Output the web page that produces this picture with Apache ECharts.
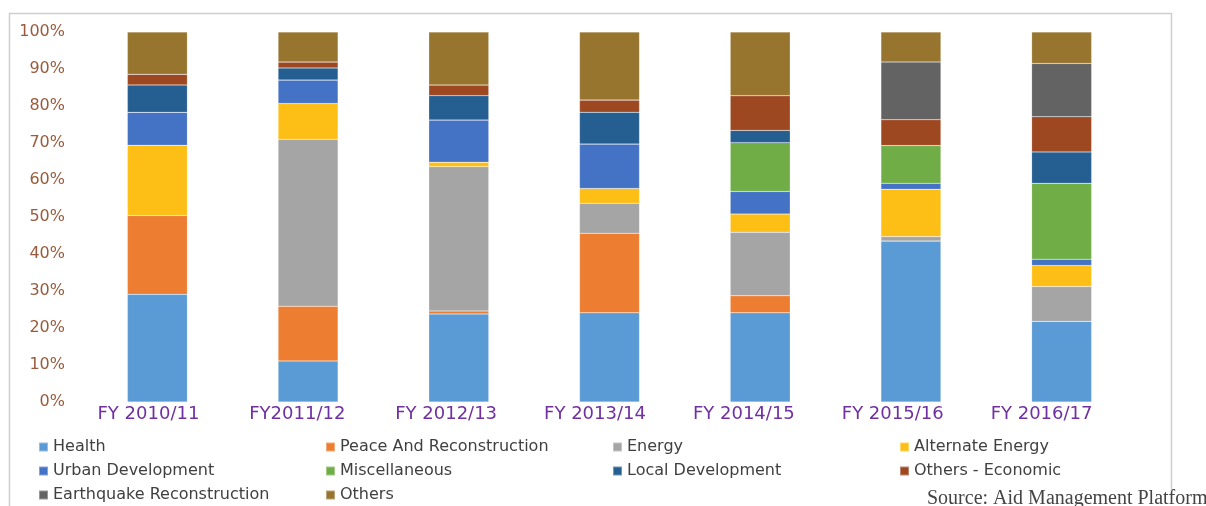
<!DOCTYPE html>
<html>
<head>
<meta charset="utf-8">
<script src="https://cdn.jsdelivr.net/npm/echarts@6/dist/echarts.min.js"></script>
<style>
  html, body { margin: 0; padding: 0; background: #fff; }
  #chart { width: 1206px; height: 506px; }
</style>
</head>
<body>
<div id="chart"></div>
<script>
const years = ['FY 2010/11', 'FY2011/12', 'FY 2012/13', 'FY 2013/14', 'FY 2014/15', 'FY 2015/16', 'FY 2016/17']

// share of each sector per year (%)
const health      = [29.1, 11.1, 23.8, 24.1, 24.1, 43.5, 21.8]
const peace       = [21.3, 14.8, 0.8, 21.5, 4.6, 0, 0]
const energy      = [0, 45.1, 39.0, 8.1, 17.2, 1.2, 9.4]
const alternate   = [19.0, 9.7, 1.2, 4.0, 4.9, 12.8, 5.7]
const urban       = [8.9, 6.3, 11.4, 12.0, 6.1, 1.6, 1.7]
const misc        = [0, 0, 0, 0, 13.2, 10.2, 20.5]
const local       = [7.4, 3.3, 6.6, 8.6, 3.3, 0, 8.5]
const othersEcon  = [2.9, 1.6, 2.9, 3.3, 9.4, 7.0, 9.5]
const earthquake  = [0, 0, 0, 0, 0, 15.6, 14.4]
const others      = [11.4, 8.1, 14.3, 18.4, 17.2, 8.1, 8.5]

const seriesList = [
  { name: 'Health', data: health, color: '#5b9bd5' },
  { name: 'Peace And Reconstruction', data: peace, color: '#ed7d31' },
  { name: 'Energy', data: energy, color: '#a5a5a5' },
  { name: 'Alternate Energy', data: alternate, color: '#fdbf16' },
  { name: 'Urban Development', data: urban, color: '#4472c4' },
  { name: 'Miscellaneous', data: misc, color: '#70ad47' },
  { name: 'Local Development', data: local, color: '#255e91' },
  { name: 'Others - Economic', data: othersEcon, color: '#9e4822' },
  { name: 'Earthquake Reconstruction', data: earthquake, color: '#636363' },
  { name: 'Others', data: others, color: '#97752e' }
]

const chart = echarts.init(document.getElementById('chart'))
chart.setOption({
  animation: false,
  graphic: [
    {
      // frame round the chart (bottom edge cut off)
      type: 'polyline',
      shape: { points: [[9.5, 520], [9.5, 13.5], [1171.5, 13.5], [1171.5, 490]] },
      style: { fill: 'none', stroke: '#cdcdd4', lineWidth: 1.5 },
      z: -1
    }
  ],
  title: {
    text: 'Source: Aid Management Platform',
    left: 927,
    top: 489,
    padding: 0,
    textStyle: {
      fontFamily: 'Liberation Serif',
      fontWeight: 'normal',
      fontSize: 20,
      color: '#444'
    }
  },
  grid: [
    { left: 82, right: 69, top: 32, bottom: 104 },
    // the year labels sit on a slightly narrower spacing than the bars
    { left: 74, right: 90, top: 32, bottom: 104 }
  ],
  legend: {
    left: 38,
    top: 439,
    width: 1170,
    padding: 0,
    itemWidth: 9,
    itemHeight: 9,
    itemGap: 8,
    icon: 'rect',
    textStyle: {
      fontFamily: 'DejaVu Sans',
      fontSize: 16,
      color: '#404040',
      width: 264,
      lineHeight: 14
    },
    data: seriesList.map(s => s.name)
  },
  xAxis: [
    {
      type: 'category',
      data: years,
      axisLine: { show: false },
      axisTick: { show: false },
      axisLabel: { show: false }
    },
    {
      type: 'category',
      gridIndex: 1,
      data: years,
      axisLine: { show: false },
      axisTick: { show: false },
      axisLabel: {
        margin: 3,
        fontFamily: 'DejaVu Sans',
        fontSize: 18,
        color: '#7030a0'
      }
    }
  ],
  yAxis: [
    {
      type: 'value',
      min: 0,
      max: 100,
      interval: 10,
      splitLine: { show: false },
      axisLine: { show: false },
      axisTick: { show: false },
      axisLabel: {
        margin: 17,
        fontFamily: 'DejaVu Sans',
        fontSize: 16,
        color: '#9a5b3c',
        formatter: '{value}%'
      }
    },
    {
      type: 'value',
      gridIndex: 1,
      show: false,
      min: 0,
      max: 100
    }
  ],
  series: seriesList.map(s => ({
    name: s.name,
    type: 'bar',
    stack: 'total',
    barWidth: 60,
    data: s.data,
    itemStyle: { color: s.color, borderColor: 'rgba(255,255,255,0.35)', borderWidth: 0.5 }
  }))
})
</script>
</body>
</html>
